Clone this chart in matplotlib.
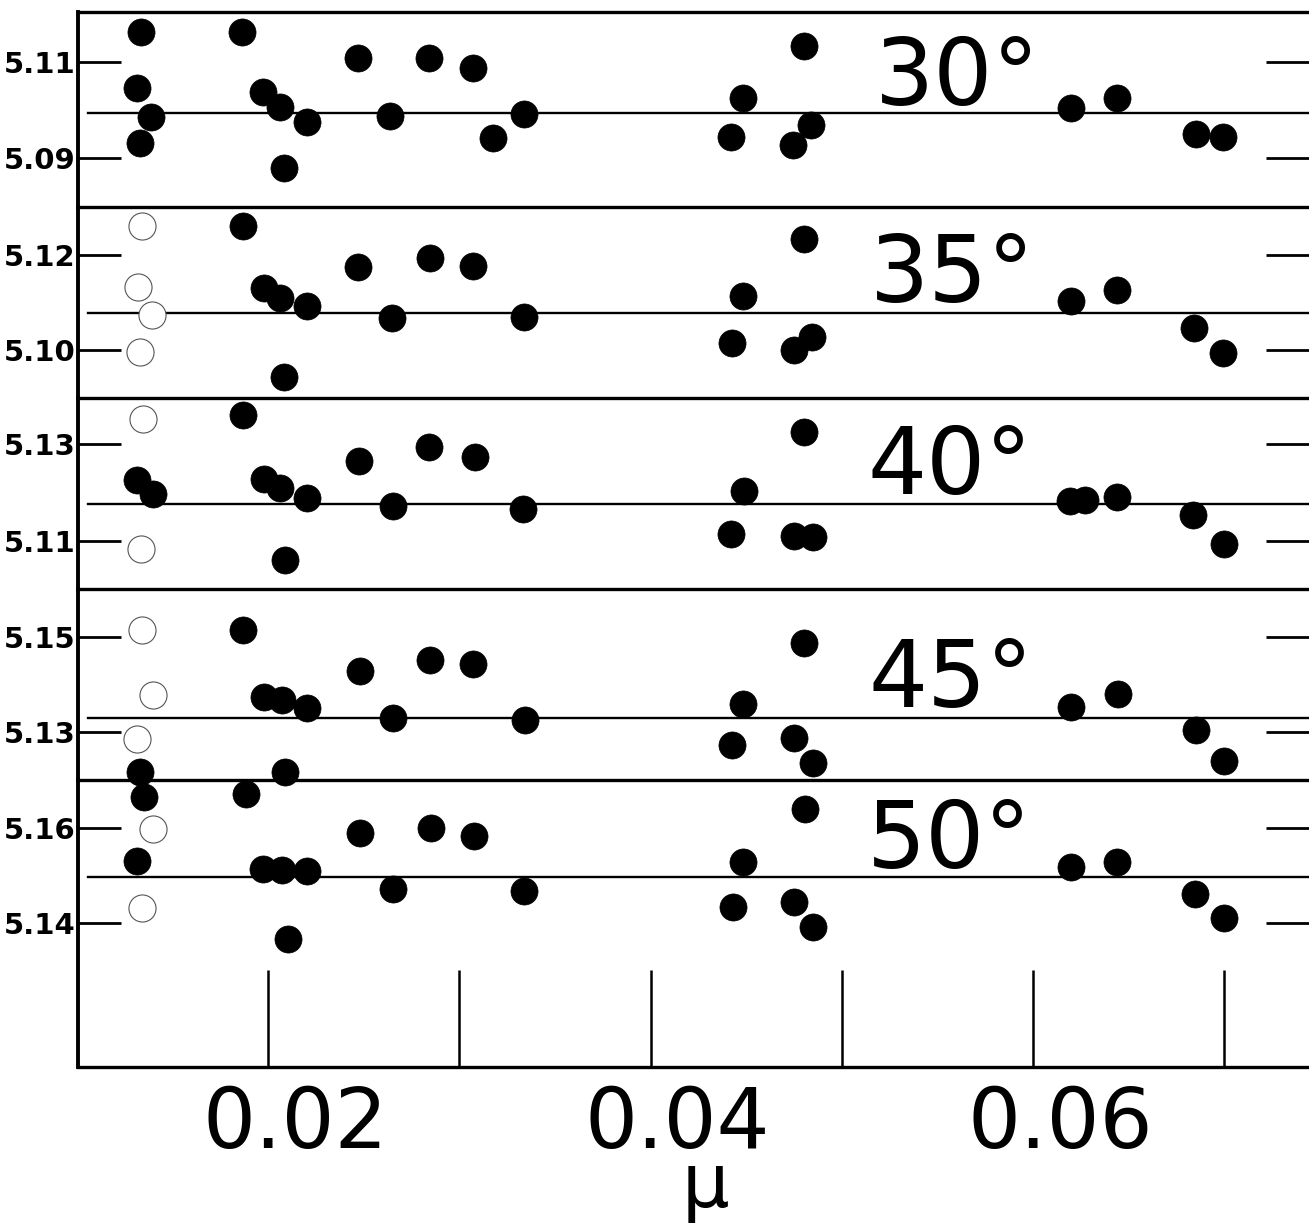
import matplotlib
matplotlib.use("Agg")
import matplotlib.pyplot as plt
from matplotlib.transforms import ScaledTranslation

plt.rcParams['font.family'] = ['DejaVu Sans']

# ---------------- data ----------------
angles = ['30°', '35°', '40°', '45°', '50°']

mu_30 = [0.01334, 0.01862, 0.02472, 0.02843, 0.03070, 0.01313, 0.01975, 0.02063,
         0.01387, 0.02205, 0.02638, 0.03339, 0.01331, 0.03175, 0.02084,
         0.04801, 0.04483, 0.04421, 0.04841, 0.04745, 0.06201, 0.06438, 0.06854, 0.06993]
val_30 = [5.1163, 5.1163, 5.1108, 5.1108, 5.1087, 5.1045, 5.1038, 5.1007,
          5.0986, 5.0976, 5.0988, 5.0992, 5.0932, 5.0941, 5.0879,
          5.1133, 5.1024, 5.0944, 5.0969, 5.0927, 5.1004, 5.1024, 5.0951, 5.0944]
open_mu_30 = []
open_val_30 = []

mu_35 = [0.01868, 0.02472, 0.02847, 0.03070, 0.01979, 0.02063, 0.02202, 0.02647,
         0.03339, 0.02085, 0.04801, 0.04483, 0.04427, 0.04845, 0.04748,
         0.06201, 0.06438, 0.06842, 0.06993]
val_35 = [5.1261, 5.1175, 5.1194, 5.1177, 5.1130, 5.1109, 5.1093, 5.1067,
          5.1070, 5.0944, 5.1233, 5.1114, 5.1015, 5.1028, 5.1001,
          5.1104, 5.1126, 5.1046, 5.0993]
open_mu_35 = [0.01340, 0.01319, 0.01392, 0.01331]
open_val_35 = [5.1260, 5.1132, 5.1074, 5.0996]

mu_40 = [0.01871, 0.02477, 0.02843, 0.03082, 0.01313, 0.01397, 0.01979, 0.02063,
         0.02205, 0.02652, 0.03335, 0.02089, 0.04801, 0.04490, 0.04421, 0.04748,
         0.04850, 0.06193, 0.06270, 0.06438, 0.06836, 0.07000]
val_40 = [5.1360, 5.1266, 5.1294, 5.1274, 5.1226, 5.1197, 5.1227, 5.1209,
          5.1188, 5.1172, 5.1167, 5.1061, 5.1325, 5.1204, 5.1114, 5.1110,
          5.1109, 5.1183, 5.1185, 5.1190, 5.1154, 5.1094]
open_mu_40 = [0.01348, 0.01336]
open_val_40 = [5.1351, 5.1083]

mu_45 = [0.01871, 0.02481, 0.02847, 0.03073, 0.01979, 0.02072, 0.02205, 0.02652,
         0.03344, 0.01331, 0.02089, 0.04804, 0.04483, 0.04427, 0.04748, 0.04850,
         0.06201, 0.06444, 0.06854, 0.06997]
val_45 = [5.1515, 5.1429, 5.1452, 5.1443, 5.1374, 5.1367, 5.1350, 5.1329,
          5.1325, 5.1215, 5.1216, 5.1487, 5.1359, 5.1273, 5.1287, 5.1235,
          5.1352, 5.1380, 5.1304, 5.1240]
open_mu_45 = [0.01340, 0.01401, 0.01313]
open_val_45 = [5.1515, 5.1378, 5.1285]

mu_50 = [0.01352, 0.01883, 0.02481, 0.02851, 0.03077, 0.01317, 0.01975, 0.02072,
         0.02205, 0.02652, 0.03339, 0.02103, 0.04807, 0.04483, 0.04431, 0.04748,
         0.04850, 0.06201, 0.06438, 0.06848, 0.07000]
val_50 = [5.1666, 5.1671, 5.1589, 5.1601, 5.1583, 5.1531, 5.1513, 5.1512,
          5.1510, 5.1471, 5.1468, 5.1366, 5.1641, 5.1529, 5.1434, 5.1445,
          5.1391, 5.1517, 5.1529, 5.1461, 5.1410]
open_mu_50 = [0.01397, 0.01340]
open_val_50 = [5.1597, 5.1431]

mean_vals = [5.0994, 5.1077, 5.1176, 5.1329, 5.1496]
yticks_per_band = [[5.09, 5.11], [5.10, 5.12], [5.11, 5.13], [5.13, 5.15], [5.14, 5.16]]
ylims = [(5.0798, 5.1204), (5.0899, 5.1301), (5.1001, 5.1395), (5.1199, 5.1601), (5.1097, 5.1701)]

x_ticks = [0.02, 0.03, 0.04, 0.05, 0.06, 0.07]
x_ticklabels = ['0.02', '', '0.04', '', '0.06', '']
x_lim = (0.010065, 0.074431)
x_label = 'μ'

# ---------------- layout ----------------
W, H = 1309, 1226
fig = plt.figure(figsize=(W / 100, H / 100), dpi=100)

band_edges_px = [12, 207, 398, 589, 780, 1067]
left_px = 78
label_pos = [(0.05174, 5.1010), (0.05148, 5.1101), (0.05137, 5.1197),
             (0.05140, 5.1353), (0.05132, 5.1516)]

mu_all = [mu_30, mu_35, mu_40, mu_45, mu_50]
val_all = [val_30, val_35, val_40, val_45, val_50]
omu_all = [open_mu_30, open_mu_35, open_mu_40, open_mu_45, open_mu_50]
oval_all = [open_val_30, open_val_35, open_val_40, open_val_45, open_val_50]

axes = []
for i in range(5):
    top, bot = band_edges_px[i], band_edges_px[i + 1]
    ax = fig.add_axes([left_px / W, 1 - bot / H, 1 - left_px / W, (bot - top) / H])
    ax.patch.set_visible(False)
    ax.set_xlim(*x_lim)
    ax.set_ylim(*ylims[i])
    ax.spines['right'].set_visible(False)
    ax.spines['left'].set_linewidth(2.8)
    ax.spines['top'].set_linewidth(2.4)
    if i < 4:
        ax.spines['bottom'].set_visible(False)
    else:
        ax.spines['bottom'].set_linewidth(2.4)

    # mean line
    ax.axhline(mean_vals[i], xmin=0.008, xmax=1.0, color='black', lw=1.7, zorder=1)

    # y ticks
    ax.set_yticks(yticks_per_band[i])
    ax.set_yticklabels([f'{v:.2f}' for v in yticks_per_band[i]],
                       fontsize=21, fontweight='bold')
    ax.tick_params(axis='y', which='both', direction='in', length=31, width=2.0,
                   left=True, right=True, labelleft=True, labelright=False, pad=2)

    # x ticks
    ax.set_xticks(x_ticks)
    if i < 4:
        ax.tick_params(axis='x', which='both', bottom=False, top=False,
                       labelbottom=False)
    else:
        ax.set_xticklabels(x_ticklabels, fontsize=60)
        ax.tick_params(axis='x', which='both', direction='in', length=70, width=1.8,
                       bottom=True, top=False, pad=12)
        for lbl in ax.get_xticklabels():
            lbl.set_transform(lbl.get_transform() +
                              ScaledTranslation(0.27, 0, fig.dpi_scale_trans))

    # points
    ax.plot(mu_all[i], val_all[i], linestyle='none', marker='o', ms=19.5,
            mfc='black', mec='black', mew=0.5, clip_on=False, zorder=3)
    if omu_all[i]:
        ax.plot(omu_all[i], oval_all[i], linestyle='none', marker='o', ms=19.5,
                mfc='white', mec='#555555', mew=0.8, clip_on=False, zorder=3)

    # angle label
    ax.text(label_pos[i][0], label_pos[i][1], angles[i], fontsize=67,
            ha='left', va='baseline', color='black', zorder=4)
    axes.append(ax)

fig.text(705 / W, 1 - 1207 / H, x_label, fontsize=54, ha='center', va='baseline')

fig.savefig('out.png', dpi=100, facecolor='white')
